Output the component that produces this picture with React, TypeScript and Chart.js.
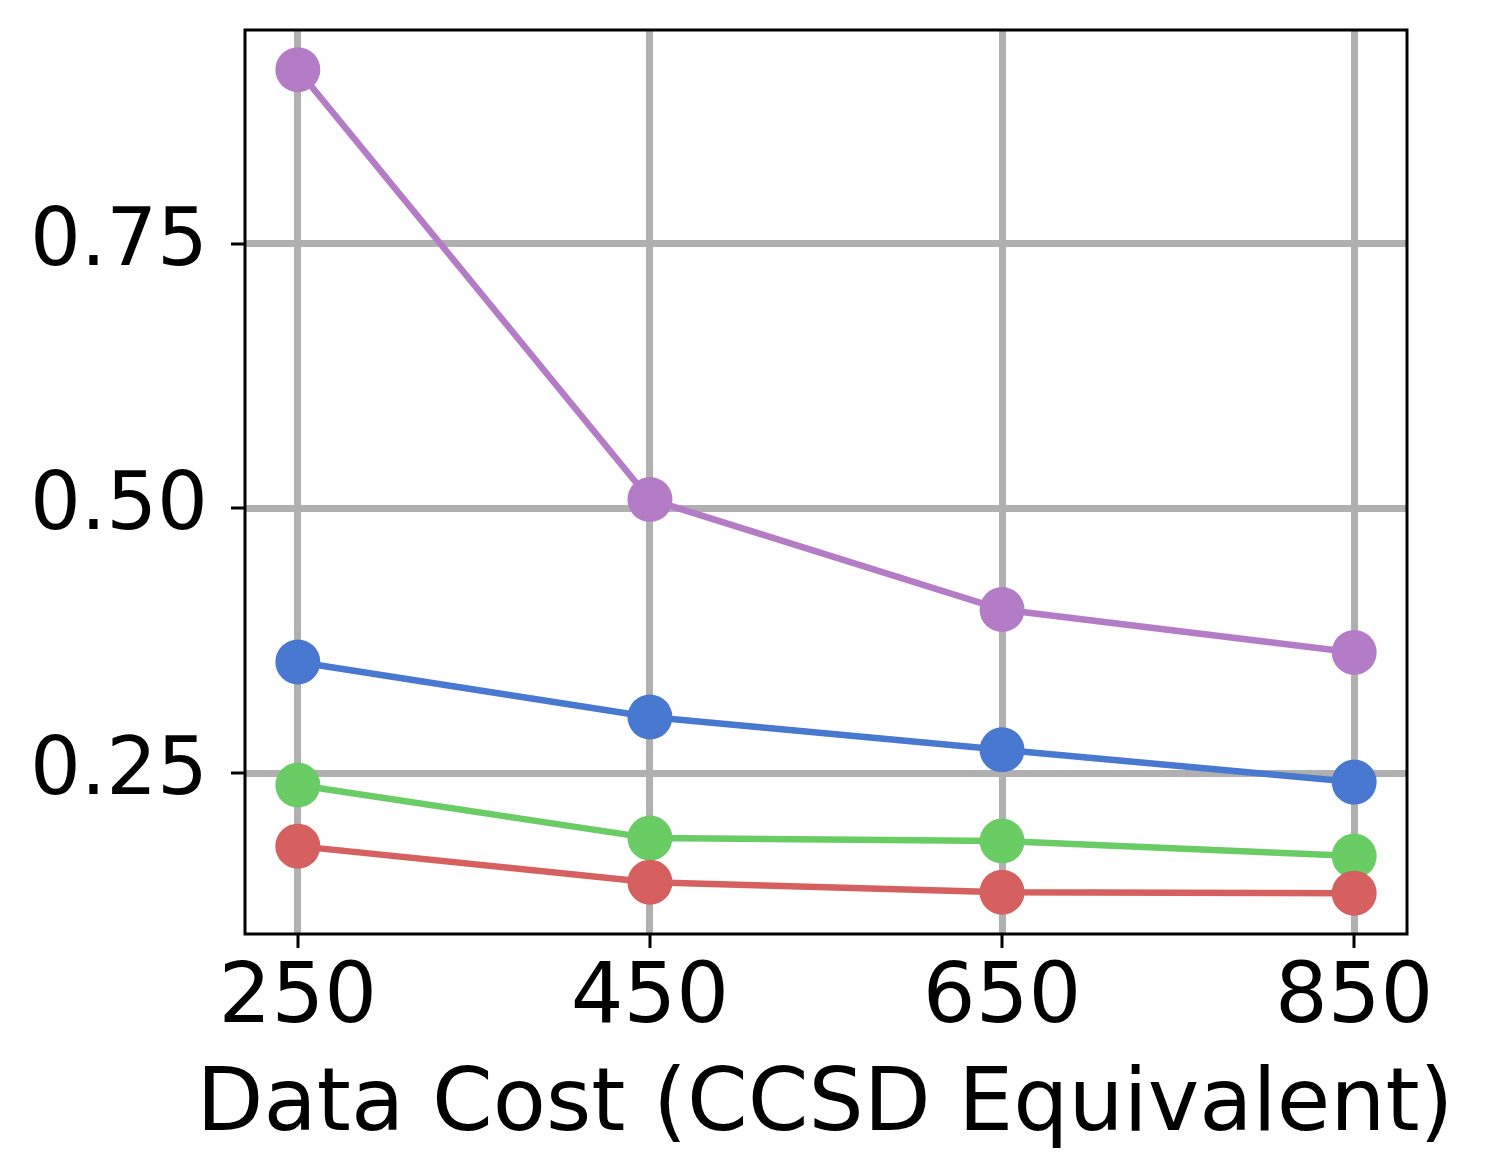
import React, { useEffect, useRef } from "react";
import { Chart, registerables } from "chart.js";

Chart.register(...registerables);

const costs = [250, 450, 650, 850];
const purpleSeries = [0.9145, 0.5085, 0.4045, 0.364];
const blueSeries = [0.355, 0.303, 0.272, 0.2415];
const greenSeries = [0.2387, 0.1886, 0.1858, 0.1716];
const redSeries = [0.181, 0.147, 0.1375, 0.1366];
const xTicks = [250, 450, 650, 850];
const yTicks = [0.25, 0.5, 0.75];
const xTitle = "Data Cost (CCSD Equivalent)";

const W = 1488;
const H = 1176;
const FONT = "'DejaVu Sans', sans-serif";

const toPts = (ys: number[]) => costs.map((x, i) => ({ x, y: ys[i] }));

const axesPlugin = {
  id: "mplAxes",
  afterDraw(chart: any) {
    const { ctx, chartArea } = chart;
    const xs = chart.scales.x;
    const ys = chart.scales.y;
    ctx.save();
    ctx.strokeStyle = "#000";
    ctx.lineWidth = 3;
    ctx.lineCap = "butt";
    const tl = 14;
    xTicks.forEach((v) => {
      const px = Math.round(xs.getPixelForValue(v));
      ctx.beginPath();
      ctx.moveTo(px, chartArea.bottom);
      ctx.lineTo(px, chartArea.bottom + tl);
      ctx.stroke();
    });
    yTicks.forEach((v) => {
      const py = Math.round(ys.getPixelForValue(v));
      ctx.beginPath();
      ctx.moveTo(chartArea.left, py);
      ctx.lineTo(chartArea.left - tl, py);
      ctx.stroke();
    });
    ctx.lineWidth = 3;
    ctx.strokeRect(
      chartArea.left,
      chartArea.top,
      chartArea.right - chartArea.left,
      chartArea.bottom - chartArea.top
    );
    // axis title (drawn without Chart.js' maxWidth squeezing)
    ctx.fillStyle = "#000";
    ctx.font = `87px ${FONT}`;
    ctx.textAlign = "center";
    ctx.textBaseline = "alphabetic";
    ctx.fillText(xTitle, (chartArea.left + chartArea.right) / 2 - 1, chartArea.bottom + 196);
    ctx.restore();
  },
};

function mkDataset(label: string, ys: number[], color: string, order: number) {
  return {
    label,
    data: toPts(ys),
    borderColor: color,
    backgroundColor: color,
    pointBackgroundColor: color,
    pointBorderColor: color,
    borderWidth: 6.5,
    pointRadius: 22.5,
    pointHoverRadius: 22.5,
    pointBorderWidth: 0,
    tension: 0,
    order,
  };
}

export default function App() {
  const ref = useRef<HTMLCanvasElement | null>(null);
  useEffect(() => {
    document.body.style.margin = "0";
    const canvas = ref.current;
    if (!canvas) return;
    const chart = new Chart(canvas, {
      type: "line",
      data: {
        datasets: [
          mkDataset("purple", purpleSeries, "#b47cc7", 4),
          mkDataset("blue", blueSeries, "#4878cf", 3),
          mkDataset("green", greenSeries, "#6acc65", 2),
          mkDataset("red", redSeries, "#d65f5f", 1),
        ],
      },
      options: {
        animation: false,
        responsive: false,
        devicePixelRatio: 1,
        layout: { padding: { top: 30, right: 81, left: 0, bottom: 0 } },
        plugins: {
          legend: { display: false },
          tooltip: { enabled: false },
          title: { display: false },
        },
        scales: {
          x: {
            type: "linear",
            min: 220,
            max: 880,
            afterBuildTicks: (s: any) => {
              s.ticks = xTicks.map((v) => ({ value: v }));
            },
            afterFit: (s: any) => {
              s.height = 242;
              s.paddingLeft = 0;
              s.paddingRight = 0;
            },
            grid: {
              color: "#b0b0b0",
              lineWidth: 7,
              drawTicks: false,
            },
            border: { display: false },
            ticks: {
              color: "#000",
              padding: 17,
              maxRotation: 0,
              font: { family: FONT, size: 83 },
              callback: (v: any) => String(v),
            },
            title: { display: false },
          },
          y: {
            type: "linear",
            min: 0.098,
            max: 0.952,
            afterBuildTicks: (s: any) => {
              s.ticks = yTicks.map((v) => ({ value: v }));
            },
            afterFit: (s: any) => {
              s.width = 245;
              s.paddingTop = 0;
              s.paddingBottom = 0;
            },
            grid: {
              color: "#b0b0b0",
              lineWidth: 7,
              drawTicks: false,
            },
            border: { display: false },
            ticks: {
              color: "#000",
              padding: 37,
              font: { family: FONT, size: 80 },
              callback: (v: any) => Number(v).toFixed(2),
            },
          },
        },
      },
      plugins: [axesPlugin],
    });
    return () => chart.destroy();
  }, []);
  return (
    <div style={{ position: "fixed", left: 0, top: 0, width: W, height: H, background: "#fff" }}>
      <canvas ref={ref} width={W} height={H} style={{ width: W, height: H, display: "block" }} />
    </div>
  );
}
